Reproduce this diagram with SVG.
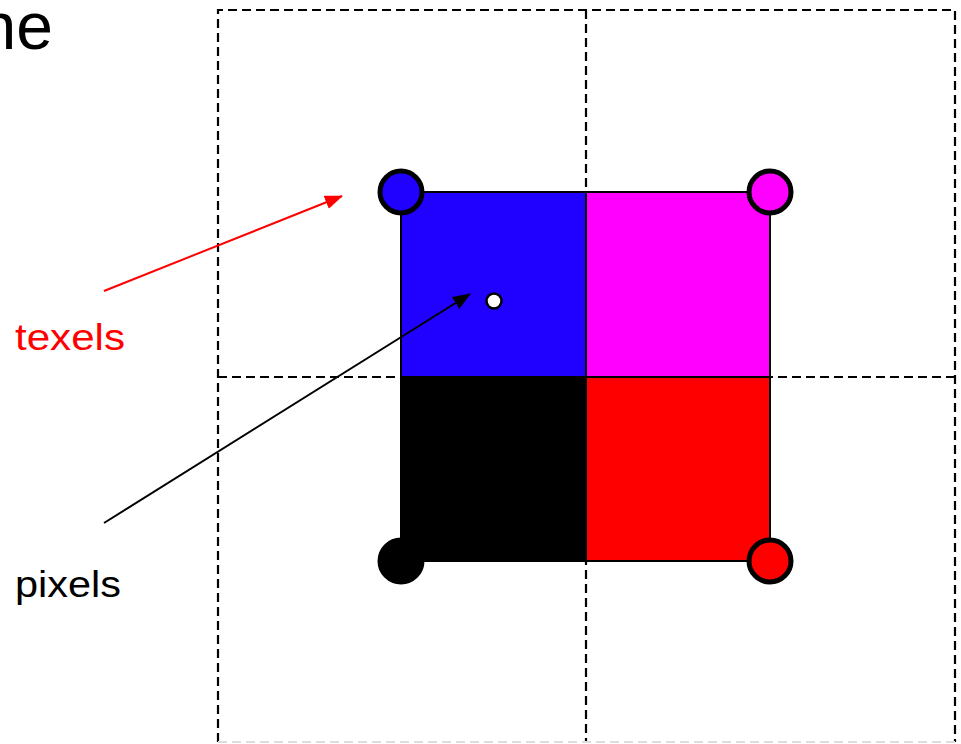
<svg xmlns="http://www.w3.org/2000/svg" width="961" height="744" viewBox="0 0 961 744">
<style>
.grid{fill:none;stroke:#000;stroke-width:2.2;stroke-dasharray:9,5}
.corner{stroke:#000;stroke-width:5}
.lbl{font-family:"Liberation Sans",Arial,sans-serif}
</style>
<defs>
<marker id="ahRed" viewBox="0 0 18 14" refX="17" refY="7" markerWidth="18" markerHeight="14" orient="auto" markerUnits="userSpaceOnUse"><path d="M0,0 L18,7 L0,14 z" fill="#FF0000"/></marker>
<marker id="ahBlack" viewBox="0 0 18 14" refX="17" refY="7" markerWidth="18" markerHeight="14" orient="auto" markerUnits="userSpaceOnUse"><path d="M0,0 L18,7 L0,14 z" fill="#000"/></marker>
</defs>
<rect width="961" height="744" fill="#fff"/>
<text class="lbl" x="53" y="49" font-size="66" text-anchor="end">ne</text>
<g id="grid">
<path class="grid" d="M218,742 V10 H955 V742"/>
<path class="grid" d="M586,10 V742"/>
<path class="grid" d="M218,377 H955"/>
<path d="M218,742 H955" fill="none" stroke="#dddddd" stroke-width="2" stroke-dasharray="9,5"/>
</g>
<g id="texture">
<rect x="401" y="192" width="185" height="185" fill="#2000FF" stroke="#000" stroke-width="2"/>
<rect x="586" y="192" width="184" height="185" fill="#FF00FF" stroke="#000" stroke-width="2"/>
<rect x="401" y="377" width="185" height="184" fill="#000" stroke="#000" stroke-width="2"/>
<rect x="586" y="377" width="184" height="184" fill="#FF0000" stroke="#000" stroke-width="2"/>
</g>
<g id="texel-blue"><circle class="corner" cx="401" cy="192" r="21" fill="#2000FF"/></g>
<g id="texel-magenta"><circle class="corner" cx="770" cy="192" r="21" fill="#FF00FF"/></g>
<g id="texel-black"><circle class="corner" cx="401" cy="561" r="21" fill="#000"/></g>
<g id="texel-red"><circle class="corner" cx="770" cy="561" r="21" fill="#FF0000"/></g>
<g id="pixel"><circle cx="494" cy="301" r="7.5" fill="#fff" stroke="#000" stroke-width="2.5"/></g>
<g id="connectors">
<line x1="104" y1="291" x2="342" y2="196" stroke="#FF0000" stroke-width="2" marker-end="url(#ahRed)"/>
<line x1="104" y1="523" x2="470" y2="294" stroke="#000" stroke-width="2" marker-end="url(#ahBlack)"/>
</g>
<g id="label-texels"><text class="lbl" x="15" y="350" font-size="36" fill="#FF0000" textLength="110" lengthAdjust="spacingAndGlyphs">texels</text></g>
<g id="label-pixels"><text class="lbl" x="15" y="597" font-size="36" fill="#000" textLength="106" lengthAdjust="spacingAndGlyphs">pixels</text></g>
</svg>
